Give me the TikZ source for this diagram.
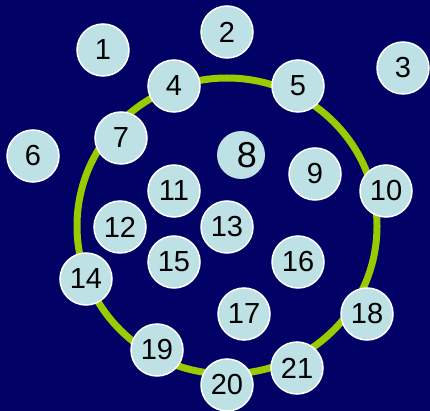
\documentclass[tikz,border=0pt]{standalone}
\usepackage{fontspec}
\setmainfont{Liberation Sans}
\definecolor{bg}{HTML}{020266}
\definecolor{ball}{HTML}{BDE1E4}
\definecolor{ring}{HTML}{99CC00}
\begin{document}
\begin{tikzpicture}[x=1pt,y=-1pt,
  ballnode/.style={circle,fill=ball,draw=white,line width=1.5pt,minimum size=52pt,inner sep=0pt,font=\fontsize{29}{29}\selectfont,text=black},
  bigball/.style={circle,fill=ball,minimum size=48pt,inner sep=0pt,font=\fontsize{36}{36}\selectfont,text=black}]
\fill[bg] (0,0) rectangle (430,411);
\useasboundingbox (0,0) rectangle (430,411);
\coordinate (c) at (227,226);
\draw[ring,line width=7pt] (c) ellipse [x radius=150, y radius=148];
\node[ballnode] (n1) at (103,50) {1};
\node[ballnode] (n2) at (227,32) {2};
\node[ballnode] (n3) at (403,68) {3};
\node[ballnode] (n4) at (174,86) {4};
\node[ballnode] (n5) at (298,86) {5};
\node[ballnode] (n6) at (33,156) {6};
\node[ballnode] (n7) at (121,138) {7};
\node[bigball] (n8) at (241,155) {\hspace*{12pt}8};
\node[ballnode] (n9) at (315,174) {9};
\node[ballnode] (n10) at (386,191) {10};
\node[ballnode] (n11) at (174,191) {11};
\node[ballnode] (n12) at (120,227) {12};
\node[ballnode] (n13) at (227,227) {13};
\node[ballnode] (n14) at (86,279) {14};
\node[ballnode] (n15) at (174,262) {15};
\node[ballnode] (n16) at (298,262) {16};
\node[ballnode] (n17) at (244,314) {17};
\node[ballnode] (n18) at (367,314) {18};
\node[ballnode] (n19) at (157,350) {19};
\node[ballnode] (n20) at (227,385) {20};
\node[ballnode] (n21) at (297,368) {21};
\end{tikzpicture}
\end{document}
